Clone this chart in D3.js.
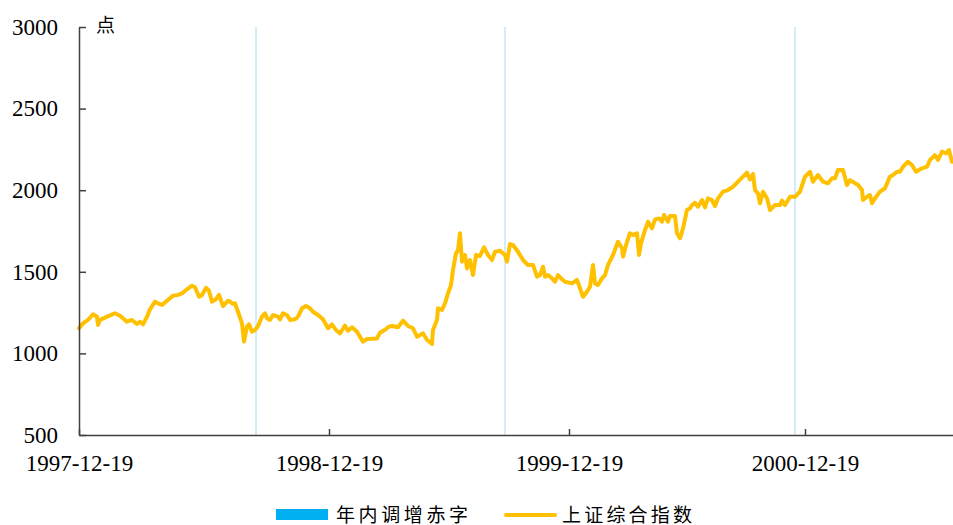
<!DOCTYPE html>
<html>
<head>
<meta charset="utf-8">
<script src="https://cdn.jsdelivr.net/npm/d3@7/dist/d3.min.js"></script>
<style>
  html, body { margin: 0; padding: 0; background: #fff; }
  svg { display: block; }
</style>
</head>
<body>
<svg id="chart" width="953" height="525"></svg>
<script>
// Trading-day index counted from 1997-12-19, and the Shanghai Composite close on that day
const tradingDay = [
  0, 4, 9, 14, 18, 19, 21, 26, 36, 41, 48, 53, 58, 61, 64, 68, 71, 76, 79, 83,
  88, 91, 94, 99, 103, 108, 113, 116, 120, 123, 127, 130, 133, 137, 140, 144, 149, 151, 154, 156,
  159, 163, 165, 168, 170, 173, 176, 179, 183, 186, 188, 191, 194, 199, 201, 204, 208, 211, 216, 219,
  223, 227, 231, 234, 239, 244, 249, 253, 257, 261, 266, 269, 273, 278, 281, 284, 288, 298, 301, 306,
  310, 313, 319, 324, 329, 334, 338, 341, 344, 348, 353, 354, 358, 359, 363, 366, 369, 372, 374, 377,
  379, 381, 383, 386, 388, 391, 394, 397, 401, 405, 409, 413, 416, 421, 426, 428, 431, 434, 439, 444,
  449, 454, 458, 461, 464, 466, 469, 473, 476, 479, 483, 486, 493, 498, 501, 504, 508, 511, 514, 516,
  519, 523, 526, 529, 534, 539, 543, 544, 548, 551, 554, 558, 560, 562, 566, 569, 573, 576, 580, 583,
  585, 589, 591, 596, 598, 601, 604, 608, 611, 613, 616, 619, 623, 626, 629, 633, 636, 639, 644, 649,
  654, 659, 664, 668, 671, 674, 676, 679, 681, 684, 688, 691, 696, 701, 703, 706, 711, 716, 721, 726,
  731, 734, 739, 744, 749, 753, 756, 759, 764, 768, 771, 779, 783, 784, 788, 791, 793, 796, 801, 806,
  811, 814, 818, 821, 824, 829, 833, 837, 843, 848, 851, 856, 859, 863, 867, 870, 873
];
const closeIndex = [
  1154, 1184, 1205, 1240, 1225, 1174, 1205, 1219, 1246, 1231, 1194, 1205, 1180, 1194, 1178, 1225, 1270, 1317, 1307, 1297,
  1323, 1338, 1354, 1358, 1368, 1393, 1415, 1405, 1347, 1358, 1402, 1384, 1317, 1332, 1358, 1290, 1323, 1317, 1303, 1307,
  1255, 1184, 1072, 1164, 1178, 1133, 1143, 1168, 1225, 1246, 1215, 1205, 1235, 1225, 1209, 1246, 1235, 1205, 1209, 1225,
  1276, 1290, 1276, 1255, 1235, 1209, 1154, 1178, 1143, 1123, 1170, 1139, 1160, 1133, 1102, 1072, 1088, 1092, 1127, 1145,
  1164, 1168, 1160, 1201, 1168, 1154, 1102, 1113, 1123, 1082, 1058, 1143, 1205, 1276, 1266, 1307, 1368, 1419, 1511, 1613,
  1633, 1736, 1562, 1603, 1521, 1572, 1480, 1603, 1597, 1650, 1603, 1572, 1623, 1629, 1603, 1562, 1670, 1664, 1623, 1572,
  1542, 1542, 1470, 1480, 1531, 1470, 1480, 1460, 1439, 1480, 1454, 1439, 1429, 1450, 1399, 1347, 1378, 1409, 1542, 1429,
  1419, 1460, 1480, 1542, 1603, 1684, 1644, 1593, 1684, 1736, 1725, 1736, 1603, 1674, 1756, 1807, 1766, 1821, 1827, 1807,
  1848, 1807, 1842, 1842, 1736, 1705, 1766, 1879, 1889, 1909, 1923, 1899, 1940, 1895, 1950, 1940, 1903, 1950, 1991, 2001,
  2021, 2052, 2083, 2107, 2066, 2099, 2001, 1981, 1920, 1991, 1950, 1879, 1909, 1909, 1936, 1909, 1960, 1960, 1991, 2083,
  2113, 2052, 2093, 2052, 2042, 2073, 2073, 2124, 2124, 2032, 2062, 2032, 2001, 1940, 1960, 1970, 1920, 1950, 1991, 2012,
  2083, 2093, 2113, 2113, 2144, 2174, 2154, 2113, 2134, 2144, 2185, 2215, 2185, 2236, 2226, 2246, 2174
];

// Trading days on which the deficit was raised during the year
const deficitDays = [177, 426, 716];

// Category-axis tick positions (trading-day index) and their labels
const xTickDays = [0, 250, 490, 726];
const xTickLabels = ["1997-12-19", "1998-12-19", "1999-12-19", "2000-12-19"];
const totalDays = 874;

const yTicks = [500, 1000, 1500, 2000, 2500, 3000];

const legendLabels = ["年内调增赤字", "上证综合指数"];
const unitLabel = "点";

const colors = { line: "#ffc000", deficit: "#a6dcf2", deficitKey: "#00b0f0", axis: "#404040" };

const svg = d3.select("#chart");
const margin = { left: 79, right: 0, top: 27, bottom: 90 };
const W = 953, H = 525;

const x = d3.scaleLinear().domain([0, totalDays]).range([margin.left, W - margin.right]);
const y = d3.scaleLinear().domain([500, 3000]).range([H - margin.bottom, margin.top]);

const serif = "'Liberation Serif', 'Times New Roman', serif";
const cjk = "'Noto Sans CJK SC', sans-serif";

// Deficit markers
svg.append("g").selectAll("line")
  .data(deficitDays)
  .join("line")
  .attr("x1", d => x(d)).attr("x2", d => x(d))
  .attr("y1", y(3000)).attr("y2", y(500))
  .attr("stroke", colors.deficit)
  .attr("stroke-width", 1);

// Index line
const series = tradingDay.map((d, i) => ({ day: d, value: closeIndex[i] }));
svg.append("path")
  .datum(series)
  .attr("fill", "none")
  .attr("stroke", colors.line)
  .attr("stroke-width", 4)
  .attr("stroke-linejoin", "round")
  .attr("stroke-linecap", "round")
  .attr("d", d3.line().x(d => x(d.day)).y(d => y(d.value)));

// Y axis (ticks point inward)
const yAxis = svg.append("g")
  .attr("transform", `translate(${margin.left},0)`)
  .call(d3.axisLeft(y).tickValues(yTicks).tickFormat(d3.format("d"))
    .tickSizeInner(-7).tickSizeOuter(0).tickPadding(21));
yAxis.select(".domain").attr("stroke", colors.axis).attr("stroke-width", 1.5);
yAxis.selectAll(".tick line").attr("stroke", colors.axis).attr("stroke-width", 1.5);
yAxis.selectAll("text").attr("font-family", serif).attr("font-size", 23).attr("fill", "#000");

// X axis (ticks point inward)
const xAxis = svg.append("g")
  .attr("transform", `translate(0,${y(500)})`)
  .call(d3.axisBottom(x).tickValues(xTickDays)
    .tickFormat((d, i) => xTickLabels[i])
    .tickSizeInner(-6).tickSizeOuter(0).tickPadding(20));
xAxis.select(".domain").attr("stroke", colors.axis).attr("stroke-width", 1.5);
xAxis.selectAll(".tick line").attr("stroke", colors.axis).attr("stroke-width", 1.5);
xAxis.selectAll("text").attr("font-family", serif).attr("font-size", 23).attr("fill", "#000");

// Unit label
svg.append("text")
  .attr("x", 96).attr("y", 23)
  .attr("dominant-baseline", "central")
  .attr("font-family", cjk).attr("font-size", 19)
  .attr("fill", "#000")
  .text(unitLabel);

// Legend
const legend = svg.append("g");
legend.append("rect")
  .attr("x", 276).attr("y", 509).attr("width", 52).attr("height", 11)
  .attr("fill", colors.deficitKey);
legend.append("text")
  .attr("x", 336).attr("y", 513)
  .attr("dominant-baseline", "central")
  .attr("font-family", cjk).attr("font-size", 19).attr("letter-spacing", 3.6)
  .attr("fill", "#000")
  .text(legendLabels[0]);
legend.append("line")
  .attr("x1", 506).attr("x2", 555).attr("y1", 515).attr("y2", 515)
  .attr("stroke", colors.line).attr("stroke-width", 4).attr("stroke-linecap", "round");
legend.append("text")
  .attr("x", 562).attr("y", 513)
  .attr("dominant-baseline", "central")
  .attr("font-family", cjk).attr("font-size", 19).attr("letter-spacing", 3.2)
  .attr("fill", "#000")
  .text(legendLabels[1]);
</script>
</body>
</html>
